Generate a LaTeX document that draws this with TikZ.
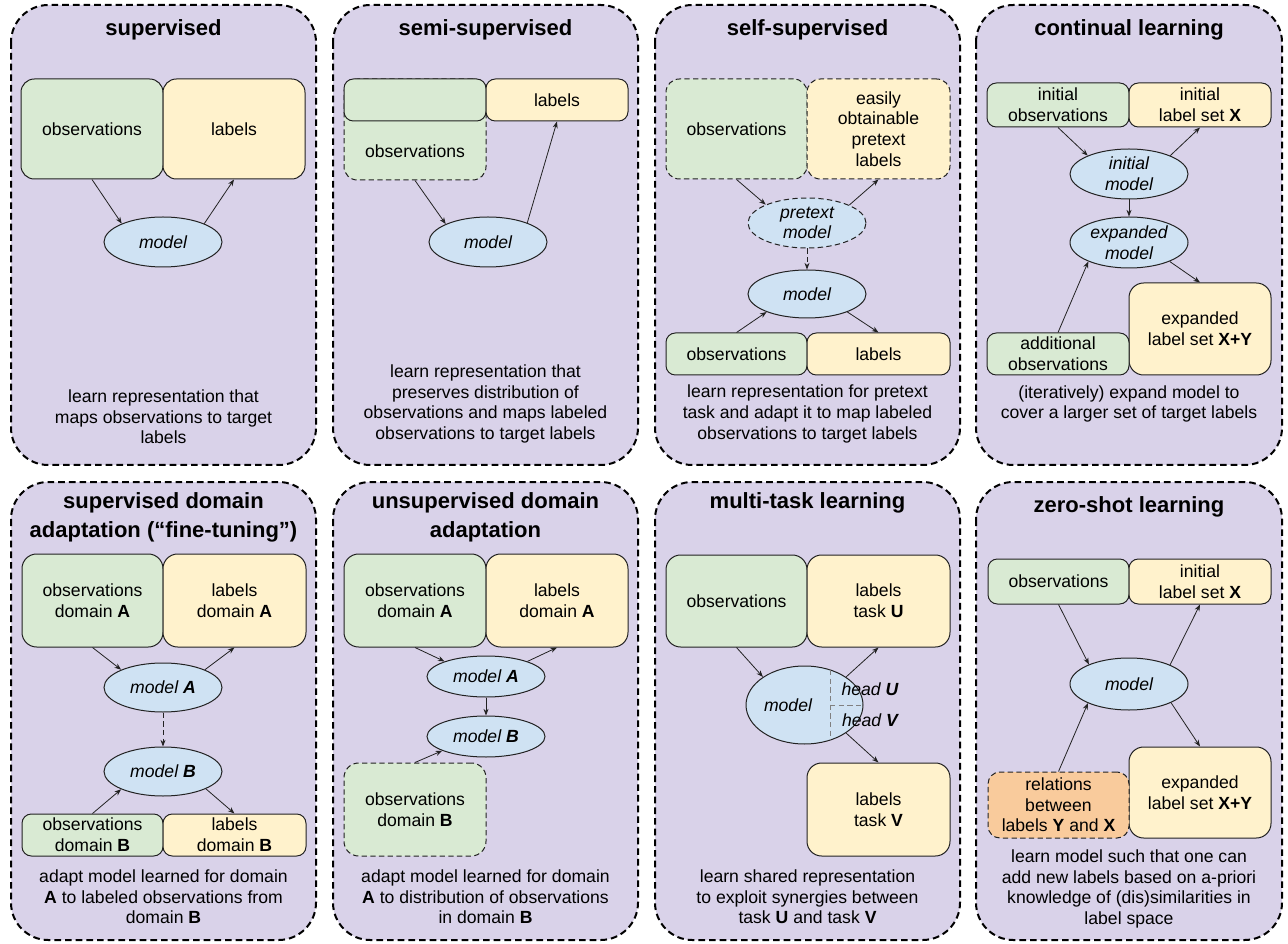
\documentclass[tikz,border=0pt]{standalone}
\usepackage{fontspec}
\setmainfont{Liberation Sans}
\usetikzlibrary{shapes.geometric,arrows.meta,calc}
\definecolor{panelbg}{HTML}{D9D2E9}
\definecolor{obsfill}{HTML}{D9EAD3}
\definecolor{labfill}{HTML}{FFF2CC}
\definecolor{modfill}{HTML}{CFE2F3}
\definecolor{relfill}{HTML}{F9CB9C}
\definecolor{edgec}{HTML}{222222}
\begin{document}
\begin{tikzpicture}[x=0.75pt,y=-0.75pt,
 every node/.style={font=\fontsize{13.2}{15.5}\selectfont, inner sep=0pt, align=center, text=black},
 pnl/.style={draw=black, fill=panelbg, line width=1.5pt, dash pattern=on 5pt off 3pt, rounded corners=28pt},
 ttl/.style={font=\fontsize{16.5}{21.75}\selectfont\bfseries},
 sz/.style 2 args={minimum width={#1*0.75pt}, minimum height={#2*0.75pt}},
 rc/.style={rounded corners=#1},
 obs/.style={draw=edgec, line width=0.75pt, fill=obsfill},
 lab/.style={draw=edgec, line width=0.75pt, fill=labfill},
 rel/.style={draw=edgec, line width=0.75pt, fill=relfill},
 mdl/.style={ellipse, draw=edgec, line width=0.75pt, fill=modfill, font=\fontsize{13.2}{15.5}\selectfont\itshape},
 itx/.style={font=\fontsize{13.2}{15.5}\selectfont\itshape},
 dsh/.style={dash pattern=on 4pt off 2.5pt},
 arr/.style={-{Stealth[length=5pt,width=3.8pt]}, line width=0.6pt, draw=edgec},
]
\useasboundingbox (0,0) rectangle (1288,944);

% ---------- panel 1: supervised
\draw[pnl] (11,5) rectangle (316,465);
\node[ttl] (t1) at (163.5,30) {supervised};
\node[obs, rc=10pt, sz={142}{100}] (p1o) at (92,129) {observations};
\node[lab, rc=10pt, sz={142}{100}] (p1l) at (234,129) {labels};
\node[mdl, sz={118}{50}] (p1m) at (163,242) {model};
\node (p1d) at (163.5,417) {learn representation that\\maps observations to target\\labels};
\draw[arr] (p1o.south) -- (p1m.156);
\draw[arr] (p1m.24) -- (p1l.south);

% ---------- panel 2: semi-supervised
\draw[pnl] (333,5) rectangle (638,465);
\node[ttl] (t2) at (485.5,30) {semi-supervised};
\node[obs, dsh, rc=10pt, sz={142}{101}] (p2o) at (415,129.5) {};
\node[obs, rc=7pt, sz={142}{42}] (p2ot) at (415,100) {};
\node (p2otx) at (415,151) {observations};
\node[lab, rc=7pt, sz={142}{42}] (p2l) at (557,100) {labels};
\node[mdl, sz={118}{50}] (p2m) at (488,242) {model};
\node (p2d) at (485.5,404) {learn representation that\\preserves distribution of\\observations and maps labeled\\observations to target labels};
\draw[arr] (p2o.south) -- (p2m.157);
\draw[arr] (p2m.26) -- (p2l.south);

% ---------- panel 3: self-supervised
\draw[pnl] (655,5) rectangle (960,465);
\node[ttl] (t3) at (807.5,30) {self-supervised};
\node[obs, dsh, rc=10pt, sz={141}{100}] (p3o) at (736.5,129) {observations};
\node[lab, dsh, rc=10pt, sz={143}{100}] (p3l) at (878.5,129) {easily\\obtainable\\pretext\\labels};
\node[mdl, dsh, sz={118}{50}] (p3pm) at (807,223) {pretext\\model};
\node[mdl, sz={118}{48}] (p3m) at (807,294) {model};
\node[obs, rc=7pt, sz={141}{42}] (p3o2) at (736.5,354) {observations};
\node[lab, rc=7pt, sz={143}{42}] (p3l2) at (878.5,354) {labels};
\node (p3d) at (807.5,414) {learn representation for pretext\\task and adapt it to map labeled\\observations to target labels};
\draw[arr] (p3o.south) -- (p3pm.156);
\draw[arr] (p3pm.23) -- (p3l.south);
\draw[arr, dsh] (p3pm.south) -- (p3m.north);
\draw[arr] (p3o2.north) -- (p3m.204);
\draw[arr] (p3m.336) -- (p3l2.north);

% ---------- panel 4: continual learning
\draw[pnl] (976,5) rectangle (1282,465);
\node[ttl] (t4) at (1129,30) {continual learning};
\node[obs, rc=7pt, sz={142}{44}] (p4io) at (1058,105) {initial\\observations};
\node[lab, rc=7pt, sz={142}{44}] (p4il) at (1200,105) {initial\\label set \textbf{X}};
\node[mdl, sz={118}{50}] (p4im) at (1129,174) {initial\\model};
\node[mdl, sz={118}{51}] (p4em) at (1129,242.5) {expanded\\model};
\node[lab, rc=11pt, sz={142}{92}] (p4el) at (1200,329) {expanded\\label set \textbf{X+Y}};
\node[obs, rc=7pt, sz={142}{42}] (p4ao) at (1058,354) {additional\\observations};
\node (p4d) at (1129,404) {(iteratively) expand model to\\cover a larger set of target labels};
\draw[arr] (p4io.south) -- (p4im.156);
\draw[arr] (p4im.24) -- (p4il.south);
\draw[arr] (p4im.south) -- (p4em.north);
\draw[arr] (p4em.335) -- (p4el.north);
\draw[arr] (p4ao.north) -- (p4em.205);

% ---------- panel 5: supervised domain adaptation
\draw[pnl] (11,482) rectangle (316,940);
\node[ttl] (t5) at (163.5,517.5) {supervised domain\\adaptation (“fine-tuning”)};
\node[obs, rc=11pt, sz={141}{93}] (p5oa) at (92.5,600.5) {observations\\domain \textbf{A}};
\node[lab, rc=11pt, sz={143}{93}] (p5la) at (234.5,600.5) {labels\\domain \textbf{A}};
\node[mdl, sz={118}{49}] (p5ma) at (163,687.5) {model \textbf{A}};
\node[mdl, sz={118}{49}] (p5mb) at (163,771.5) {model \textbf{B}};
\node[obs, rc=7pt, sz={141}{42}] (p5ob) at (92.5,835) {observations\\domain \textbf{B}};
\node[lab, rc=7pt, sz={143}{42}] (p5lb) at (234.5,835) {labels\\domain \textbf{B}};
\node (p5d) at (163.5,897) {adapt model learned for domain\\\textbf{A} to labeled observations from\\domain \textbf{B}};
\draw[arr] (p5oa.south) -- (p5ma.157);
\draw[arr] (p5ma.23) -- (p5la.south);
\draw[arr, dsh] (p5ma.south) -- (p5mb.north);
\draw[arr] (p5ob.north) -- (p5mb.203);
\draw[arr] (p5mb.338) -- (p5lb.north);

% ---------- panel 6: unsupervised domain adaptation
\draw[pnl] (333,482) rectangle (638,940);
\node[ttl] (t6) at (485.5,517.5) {unsupervised domain\\adaptation};
\node[obs, rc=11pt, sz={142}{93}] (p6oa) at (415,600.5) {observations\\domain \textbf{A}};
\node[lab, rc=11pt, sz={142}{93}] (p6la) at (557,600.5) {labels\\domain \textbf{A}};
\node[mdl, sz={118}{41}] (p6ma) at (486,676.5) {model \textbf{A}};
\node[mdl, sz={118}{41}] (p6mb) at (486,736.5) {model \textbf{B}};
\node[obs, dsh, rc=11pt, sz={142}{93}] (p6ob) at (415,809.5) {observations\\domain \textbf{B}};
\node (p6d) at (485.5,897) {adapt model learned for domain\\\textbf{A} to distribution of observations\\in domain \textbf{B}};
\draw[arr] (p6oa.south) -- (p6ma.160);
\draw[arr] (p6ma.20) -- (p6la.south);
\draw[arr] (p6ma.south) -- (p6mb.north);
\draw[arr] (p6ob.north) -- (p6mb.198);

% ---------- panel 7: multi-task learning
\draw[pnl] (655,482) rectangle (960,940);
\node[ttl] (t7) at (807.5,503) {multi-task learning};
\node[obs, rc=11pt, sz={141}{92}] (p7o) at (736.5,601) {observations};
\node[lab, rc=11pt, sz={143}{92}] (p7lu) at (878.5,601) {labels\\task \textbf{U}};
\node[mdl, sz={117}{78}] (p7m) at (804.5,705) {};
\draw[gray, dsh, line width=0.6pt] ($(p7m.center)+(25.5,-35)$) -- ($(p7m.center)+(25.5,35)$);
\draw[gray, dsh, line width=0.6pt] ($(p7m.center)+(25.5,0)$) -- (p7m.east);
\node[itx] (p7mt) at (788,705) {model};
\node[itx] (p7hu) at (870,689) {head \textbf{U}};
\node[itx] (p7hv) at (870,720) {head \textbf{V}};
\node[lab, rc=11pt, sz={143}{93}] (p7lv) at (878.5,809.5) {labels\\task \textbf{V}};
\node (p7d) at (807.5,897) {learn shared representation\\to exploit synergies between\\task \textbf{U} and task \textbf{V}};
\draw[arr] (p7o.south) -- (p7m.146);
\draw[arr] (p7m.34) -- (p7lu.south);
\draw[arr] (p7m.326) -- (p7lv.north);

% ---------- panel 8: zero-shot learning
\draw[pnl] (976,482) rectangle (1282,940);
\node[ttl] (t8) at (1129,507) {zero-shot learning};
\node[obs, rc=7pt, sz={141}{45}] (p8o) at (1058.5,581.5) {observations};
\node[lab, rc=7pt, sz={142}{45}] (p8il) at (1200,581.5) {initial\\label set \textbf{X}};
\node[mdl, sz={118}{52}] (p8m) at (1129,684) {model};
\node[lab, rc=11pt, sz={142}{91}] (p8el) at (1200,792.5) {expanded\\label set \textbf{X+Y}};
\node[rel, dsh, rc=9pt, sz={141}{66}] (p8r) at (1058.5,805) {relations\\between\\labels \textbf{Y} and \textbf{X}};
\node (p8d) at (1129,889) {learn model such that one can\\add new labels based on a-priori\\knowledge of (dis)similarities in\\label space};
\draw[arr] (p8o.south) -- (p8m.154);
\draw[arr] (p8m.25) -- (p8il.south);
\draw[arr] (p8m.336) -- (p8el.north);
\draw[arr] (p8r.north) -- (p8m.205);
\end{tikzpicture}
\end{document}
